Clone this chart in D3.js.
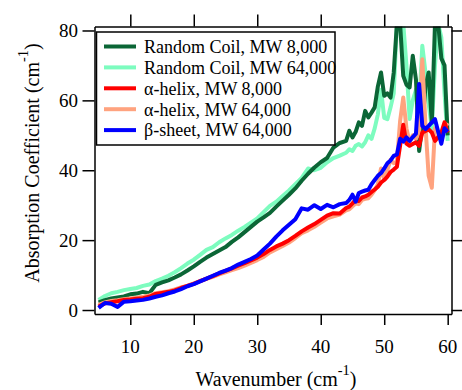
<!DOCTYPE html>
<html>
<head>
<meta charset="utf-8">
<script src="https://cdn.jsdelivr.net/npm/d3@7"></script>
<style>
  body { margin: 0; background: #fff; }
</style>
</head>
<body>
<div id="plotContainer"></div>
<script>
// wavenumber (cm-1), shared by all traces
const wavenumber = [5,6,7,8,9,10,11,12,13,14,15,16,17,18,19,20,21,22,23,24,25,26,27,28,29,30,
  31,32,33,34,35,36,37,38,39,40,41,42,43,44,
  44.5,45,45.5,46,46.5,47,47.5,48,48.5,49,49.5,50,50.5,51,51.5,52,52.5,53,53.5,54,54.5,55,
  55.5,56,56.5,57,57.5,58,58.5,59,59.5,60];

const randomCoil8k = [2.2,2.8,3.3,3.6,3.9,4.5,4.7,5.2,4.8,7.2,7.9,8.5,9.3,10.2,11.3,12.5,13.8,15.0,16.0,17.0,
  18.0,19.5,20.8,22.3,23.8,25.3,26.5,27.8,29.6,31.3,33.0,34.8,37.0,39.0,40.8,42.3,43.5,46.5,47.8,48.4,
  51.3,49.4,51,53.7,52.7,57,55.1,56.5,58,64,68,61.3,62,60.8,68,82,82,67,64.5,63.7,72.8,66,
  45.5,52.7,64,68,53.7,82,82,72,70,50];

const randomCoil64k = [2.9,4.0,4.8,5.2,5.7,6.0,6.3,6.9,7.3,8.3,9.0,9.8,10.8,12.0,13.3,14.4,15.8,17.2,18.0,19.4,
  20.5,21.5,22.7,23.8,25.0,26.2,28.0,29.8,31.0,32.6,34.2,36.0,37.8,40.5,40.0,40.7,42.3,43.5,44.2,45.0,
  46,45.5,47,47.5,46.8,48,50,49,52,56,63,55,54.6,58,62,82,82,82,70,54.7,60,63,
  58,75.6,68,59,52,70,82,78,62,48.4];

const alphaHelix8k = [1.0,1.9,2.2,2.5,2.9,3.0,3.2,3.4,3.8,4.6,4.9,5.2,5.6,6.3,6.9,7.5,8.3,9.0,9.7,10.5,
  11.2,11.9,12.7,13.4,14.2,15.0,16.0,17.2,18.2,19.0,20.0,21.2,22.5,23.6,24.6,25.8,27.0,27.7,27.6,29.2,
  29.6,30.5,31.5,31.2,32.2,32.5,33,33.8,34.5,35.3,36.5,37.2,38.2,39.5,40.2,41,47,53,47.6,47,47.5,48,
  47,50.8,51.2,51.7,50.8,48.4,49.5,50.8,53.7,50.8];

const alphaHelix64k = [1.5,2.2,2.6,2.8,3.1,3.3,3.5,3.8,4.2,4.8,5.1,5.4,5.9,6.5,7.0,7.6,8.3,8.9,9.5,10.2,
  10.8,11.4,12.0,12.7,13.5,14.3,15.2,16.5,17.4,18.3,19.3,20.6,22.0,22.8,23.8,25.0,26.2,26.8,27.3,28.5,
  28.8,29.7,30.5,30.3,31.5,31.8,32.0,33.0,34.3,36.0,40.5,37.5,40,43,42,42.5,54,60.8,52,48,50,49,
  51,71.8,52.7,38.4,35,52,51,50,52,53.5];

const betaSheet64k = [0.6,2.0,1.8,0.9,2.4,2.5,2.7,2.9,3.3,3.8,4.2,4.8,5.3,6.0,6.8,7.4,8.2,9.0,9.8,10.6,
  11.3,12.0,13.0,13.8,14.6,15.6,17.3,19.0,21.0,22.8,24.4,26.0,29.1,28.7,30.0,28.9,30.1,29.4,30.3,30.6,
  31.5,33,31,33.5,33.9,34.2,34.4,36,37.2,38.4,39.2,40.5,42,42.8,44.1,44.5,49,48.2,49.4,48.4,49.5,50.5,
  64.7,52.7,51.8,52.7,53.7,54.6,51,47.6,52,51];

const seriesNames = ["Random Coil, MW 8,000", "Random Coil, MW 64,000", "\u03b1-helix, MW 8,000",
  "\u03b1-helix, MW 64,000", "\u03b2-sheet, MW 64,000"];
const seriesColors = ["#0b6636", "#7dfcbf", "#ff0000", "#ffa37f", "#0000ff"];
const seriesValues = [randomCoil8k, randomCoil64k, alphaHelix8k, alphaHelix64k, betaSheet64k];
// drawing order: light traces first so dark ones sit on top
const drawOrder = [1, 0, 3, 2, 4];

const xTicks = [10, 20, 30, 40, 50, 60];
const yTicks = [0, 20, 40, 60, 80];

// Liberation Serif renders reliably at 18px here, so bigger text is 18px scaled up
const serif = "'Liberation Serif'";

let svgWidth = 462, svgHeight = 390;
let plot = {left: 94.5, right: 451.5, top: 26.5, bottom: 314};

let x = d3.scaleLinear().domain([4.36, 60.6]).range([plot.left, plot.right]);
let y = d3.scaleLinear().domain([-1.14, 81.14]).range([plot.bottom, plot.top]);

let svg = d3.select("#plotContainer").append("svg")
  .attr("width", svgWidth)
  .attr("height", svgHeight);

svg.append("rect").attr("width", svgWidth).attr("height", svgHeight).attr("fill", "#fff");

svg.append("clipPath").attr("id", "clip")
  .append("rect")
  .attr("x", plot.left).attr("y", plot.top)
  .attr("width", plot.right - plot.left).attr("height", plot.bottom - plot.top);

// traces
let line = d3.line()
  .x((d, i) => x(wavenumber[i]))
  .y(d => y(d));

let traces = svg.append("g").attr("clip-path", "url(#clip)");
drawOrder.forEach(k => {
  traces.append("path")
    .datum(seriesValues[k])
    .attr("d", line)
    .attr("fill", "none")
    .attr("stroke", seriesColors[k])
    .attr("stroke-width", 4)
    .attr("stroke-linejoin", "round");
});

// axes, mirrored on all four sides (labels drawn separately below)
function styleAxis(g) {
  g.selectAll("path, line").attr("stroke", "#000").attr("stroke-width", 1.5);
}

svg.append("g")
  .attr("transform", "translate(0," + plot.bottom + ")")
  .call(d3.axisBottom(x).tickValues(xTicks).tickSize(11).tickSizeOuter(0).tickFormat(""))
  .call(styleAxis);

svg.append("g")
  .attr("transform", "translate(0," + plot.top + ")")
  .call(d3.axisTop(x).tickValues(xTicks).tickSize(12).tickSizeOuter(0).tickFormat(""))
  .call(styleAxis);

svg.append("g")
  .attr("transform", "translate(" + plot.left + ",0)")
  .call(d3.axisLeft(y).tickValues(yTicks).tickSize(12).tickSizeOuter(0).tickFormat(""))
  .call(styleAxis);

svg.append("g")
  .attr("transform", "translate(" + plot.right + ",0)")
  .call(d3.axisRight(y).tickValues(yTicks).tickSize(11).tickSizeOuter(0).tickFormat(""))
  .call(styleAxis);

// tick labels
let tickScale = 19 / 18;
svg.append("g").selectAll("g")
  .data(xTicks)
  .join("g")
  .attr("transform", d => "translate(" + x(d) + ",353) scale(" + tickScale + ")")
  .append("text")
  .attr("text-anchor", "middle")
  .style("font-family", serif)
  .style("font-size", "18px")
  .text(d => d);

svg.append("g").selectAll("g")
  .data(yTicks)
  .join("g")
  .attr("transform", d => "translate(78," + y(d) + ") scale(" + tickScale + ")")
  .append("text")
  .attr("text-anchor", "end")
  .attr("dy", "0.35em")
  .style("font-family", serif)
  .style("font-size", "18px")
  .text(d => d);

// axis titles
let titleScale = 20 / 18;
let xTitle = svg.append("g")
  .attr("transform", "translate(276,386) scale(" + titleScale + ")")
  .append("text")
  .attr("text-anchor", "middle")
  .style("font-family", serif)
  .style("font-size", "18px");
xTitle.append("tspan").text("Wavenumber (cm");
xTitle.append("tspan").attr("dy", -10).style("font-size", "13px").text("-1");
xTitle.append("tspan").attr("dy", 10).text(")");

let yTitle = svg.append("g")
  .attr("transform", "translate(39,163) rotate(-90) scale(" + titleScale + ")")
  .append("text")
  .attr("text-anchor", "middle")
  .style("font-family", serif)
  .style("font-size", "18px");
yTitle.append("tspan").text("Absorption Coefficient (cm");
yTitle.append("tspan").attr("dy", -10).style("font-size", "13px").text("-1");
yTitle.append("tspan").attr("dy", 10).text(")");

// legend
let legend = svg.append("g");
legend.append("rect")
  .attr("x", 96.5).attr("y", 32)
  .attr("width", 238.5).attr("height", 113)
  .attr("fill", "#fff").attr("stroke", "#000").attr("stroke-width", 1.5);

seriesNames.forEach((name, i) => {
  let ly = 46.5 + i * 20.9;
  legend.append("line")
    .attr("x1", 104).attr("x2", 136)
    .attr("y1", ly).attr("y2", ly)
    .attr("stroke", seriesColors[i]).attr("stroke-width", 4);
  legend.append("text")
    .attr("x", 144).attr("y", ly)
    .attr("dy", "0.35em")
    .style("font-family", serif)
    .style("font-size", "18px")
    .text(name);
});
</script>
</body>
</html>
